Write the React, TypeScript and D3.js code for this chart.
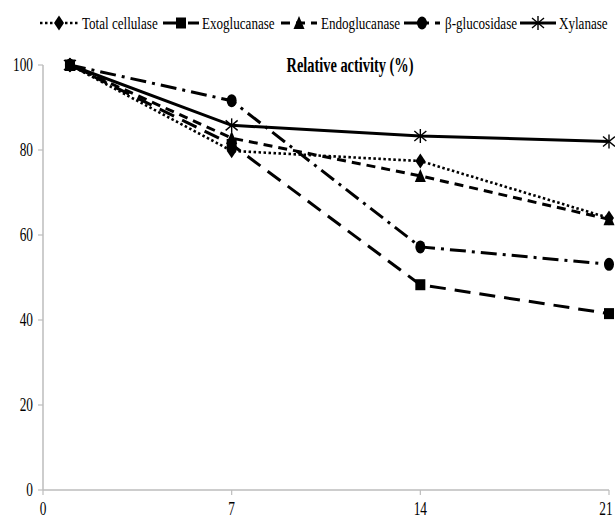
import React from "react";
import * as d3 from "d3";

const days = [1, 7, 14, 21];
const xTicks = [0, 7, 14, 21];
const yTicks = [0, 20, 40, 60, 80, 100];
const seriesNames = ["Total cellulase", "Exoglucanase", "Endoglucanase", "β-glucosidase", "Xylanase"];
const totalCellulase = [100, 79.8, 77.4, 64];
const exoglucanase = [100, 81.3, 48.3, 41.5];
const endoglucanase = [100, 82.8, 73.9, 63.7];
const betaGlucosidase = [100, 91.6, 57.2, 53.1];
const xylanase = [100, 85.8, 83.3, 82];
const seriesValues = [totalCellulase, exoglucanase, endoglucanase, betaGlucosidase, xylanase];

const dashes = ["2.5 2.5", "16 9", "9 6", "16 6 3 6", "none"];
const widths = [2.6, 3, 3, 3, 3];
const markerKinds = ["diamond", "square", "triangle", "circle", "star"];
const legendSample: [number, number, number][] = [
  [40, 78, 82],
  [163, 199, 202],
  [281, 317, 321],
  [404, 440, 445],
  [520, 556, 559],
];

function Marker({ kind, x, y }: { kind: string; x: number; y: number }) {
  if (kind === "diamond")
    return <path d={`M${x},${y - 7.5}L${x + 5},${y}L${x},${y + 7.5}L${x - 5},${y}Z`} fill="#000" />;
  if (kind === "square") return <rect x={x - 5} y={y - 5.5} width={10} height={11} fill="#000" />;
  if (kind === "triangle")
    return <path d={`M${x},${y - 7}L${x + 5.5},${y + 6}L${x - 5.5},${y + 6}Z`} fill="#000" />;
  if (kind === "circle") return <ellipse cx={x} cy={y} rx={5} ry={6.5} fill="#000" />;
  return (
    <g stroke="#000" strokeWidth={1.4}>
      <line x1={x} y1={y - 7} x2={x} y2={y + 7} />
      <line x1={x - 6} y1={y - 5} x2={x + 6} y2={y + 5} />
      <line x1={x - 6} y1={y + 5} x2={x + 6} y2={y - 5} />
    </g>
  );
}

function SText({ x, y, anchor, size, sx, bold, children }: any) {
  return (
    <text
      transform={`translate(${x},${y}) scale(${sx},1)`}
      textAnchor={anchor}
      fontFamily="'Liberation Serif', 'Times New Roman', serif"
      fontSize={size}
      fontWeight={bold ? "bold" : "normal"}
      fill="#000"
    >
      {children}
    </text>
  );
}

export default function App() {
  const W = 615, H = 519;
  const x = d3.scaleLinear().domain([0, 21]).range([43, 609]);
  const y = d3.scaleLinear().domain([0, 100]).range([490, 65]);
  const line = d3
    .line<number>()
    .x((_, i) => x(days[i]))
    .y((d) => y(d));
  return (
    <svg width={W} height={H} style={{ position: "absolute", left: 0, top: 0, background: "#fff" }}>
      <rect width={W} height={H} fill="#fff" />
      {/* axes */}
      <line x1={x(0)} y1={y(0)} x2={x(0)} y2={y(100)} stroke="#bdbdbd" strokeWidth={1.5} />
      <line x1={x(0)} y1={y(0)} x2={x(21)} y2={y(0)} stroke="#bdbdbd" strokeWidth={1.5} />
      {yTicks.map((t) => (
        <g key={"y" + t}>
          <line x1={x(0) - 5} x2={x(0)} y1={y(t)} y2={y(t)} stroke="#bdbdbd" strokeWidth={1.2} />
          <SText x={33} y={y(t) + 6} anchor="end" size={18} sx={0.74}>
            {t}
          </SText>
        </g>
      ))}
      {xTicks.map((t) => (
        <g key={"x" + t}>
          <line x1={x(t)} x2={x(t)} y1={y(0)} y2={y(0) + 5} stroke="#bdbdbd" strokeWidth={1.2} />
          <SText x={Math.min(x(t), 606)} y={515} anchor="middle" size={18} sx={0.74}>
            {t}
          </SText>
        </g>
      ))}
      <SText x={350} y={72} anchor="middle" size={20} sx={0.72} bold>
        Relative activity (%)
      </SText>
      {/* series */}
      {seriesValues.map((vals, si) => (
        <g key={"s" + si}>
          <path
            d={line(vals) || ""}
            fill="none"
            stroke="#000"
            strokeWidth={widths[si]}
            strokeDasharray={dashes[si]}
          />
          {vals.map((v, i) => (
            <Marker key={i} kind={markerKinds[si]} x={x(days[i])} y={y(v)} />
          ))}
        </g>
      ))}
      {/* legend */}
      {seriesNames.map((name, si) => {
        const [a, b, tx] = legendSample[si];
        return (
          <g key={"l" + si}>
            <line
              x1={a}
              x2={b}
              y1={23}
              y2={23}
              stroke="#000"
              strokeWidth={widths[si]}
              strokeDasharray={dashes[si]}
            />
            <Marker kind={markerKinds[si]} x={(a + b) / 2} y={23} />
            <SText x={tx} y={29} anchor="start" size={17} sx={0.77}>
              {name}
            </SText>
          </g>
        );
      })}
    </svg>
  );
}
